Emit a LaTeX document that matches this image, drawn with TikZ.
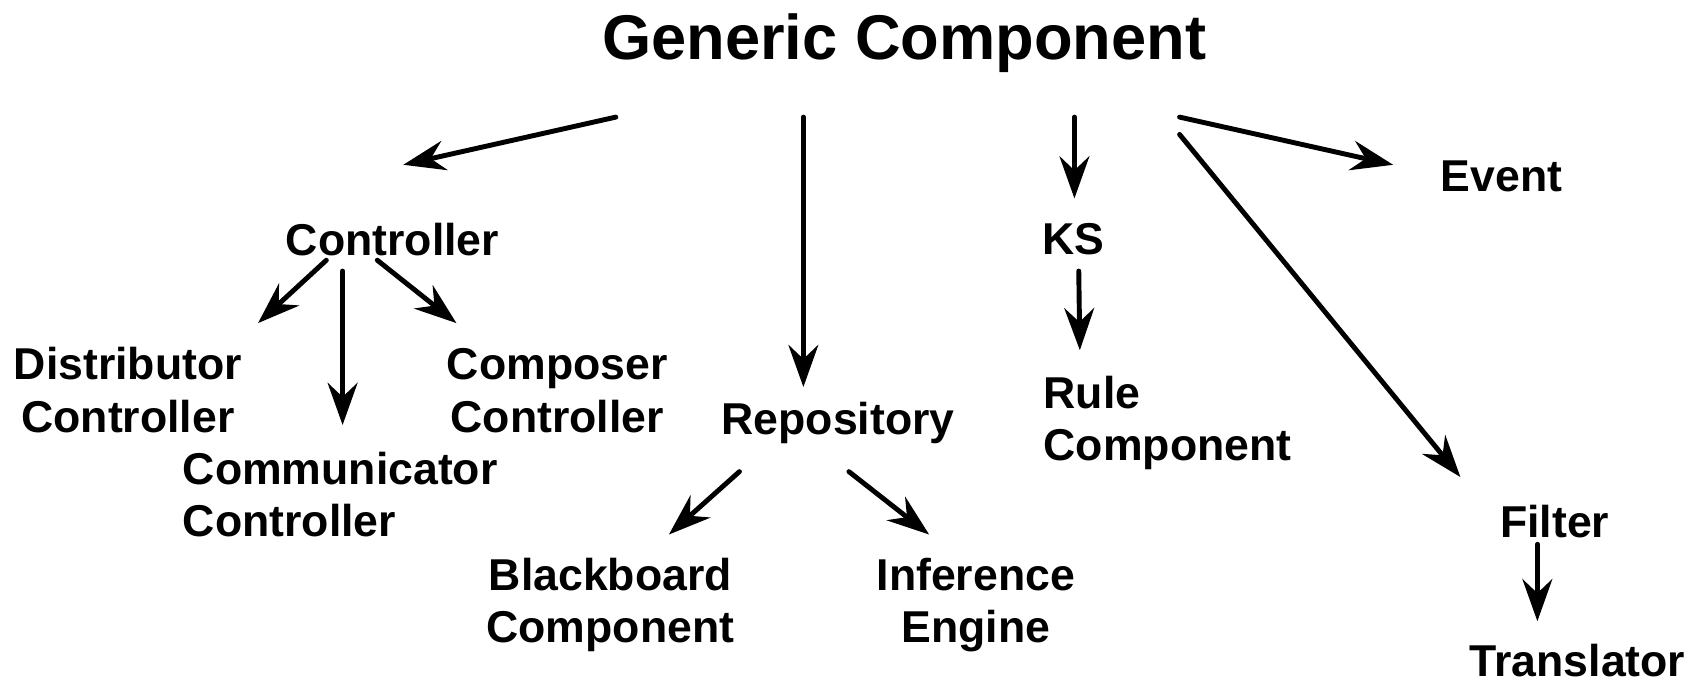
\documentclass[tikz,border=0pt]{standalone}
\usepackage{fontspec}
\setmainfont{Liberation Sans}
\usetikzlibrary{arrows.meta}

\begin{document}
\begin{tikzpicture}[
    x=0.010842cm, y=-0.010842cm,
    arr/.style={line width=1.4pt, line cap=round,
                -{Stealth[length=12pt, width=8.5pt, inset=4pt]}},
    lbl/.style={font=\bfseries\fontsize{12.7}{15}\selectfont,
                align=center, inner sep=0pt},
    lbll/.style={lbl, align=left, anchor=west},
    ttl/.style={font=\bfseries\fontsize{18}{20}\selectfont, inner sep=0pt}
]
\useasboundingbox (0,0) rectangle (1568,630);

% ---------- nodes ----------
\node[ttl] (gen) at (834,40) {Generic Component};
\node[lbl] (ctrl) at (362,221) {Controller};
\node[lbl] (dist) at (118,360) {Distributor\\Controller};
\node[lbll] (comm) at (168,456) {Communicator\\Controller};
\node[lbl] (comp) at (514,360) {Composer\\Controller};
\node[lbl] (repo) at (773,390) {Repository};
\node[lbl] (black) at (563,558) {Blackboard\\Component};
\node[lbl] (infer) at (900,558) {Inference\\Engine};
\node[lbl] (ks) at (990,221) {KS};
\node[lbll] (rule) at (962,390) {Rule\\Component};
\node[lbl] (event) at (1385,163) {Event};
\node[lbl] (filter) at (1434,481) {Filter};
\node[lbl] (trans) at (1455,609) {Translator};

% ---------- from the generic component ----------
\draw[arr] ([shift={(-266,68)}]gen.center) -- ([shift={(10,-69)}]ctrl.center);
\draw[arr] ([shift={(-93,68)}]gen.center) -- ([shift={(-32,-33)}]repo.center);
\draw[arr] ([shift={(157,68)}]gen.center) -- ([shift={(1,-38)}]ks.center);
\draw[arr] ([shift={(254,68)}]gen.center) -- ([shift={(-100,-11)}]event.center);
\draw[arr] ([shift={(254,84)}]gen.center) -- ([shift={(-87,-41)}]filter.center);

% ---------- controller ----------
\draw[arr] ([shift={(-61,19)}]ctrl.center) -- ([shift={(120,-62)}]dist.center);
\draw[arr] ([shift={(-46,29)}]ctrl.center) -- ([shift={(148,-64)}]comm.west);
\draw[arr] ([shift={(-14,19)}]ctrl.center) -- ([shift={(-93,-62)}]comp.center);

% ---------- repository ----------
\draw[arr] ([shift={(-91,45)}]repo.center) -- ([shift={(54,-65)}]black.center);
\draw[arr] ([shift={(10,45)}]repo.center) -- ([shift={(-43,-65)}]infer.center);

% ---------- ks and filter ----------
\draw[arr] ([shift={(5,29)}]ks.center) -- ([shift={(34,-67)}]rule.west);
\draw[arr] ([shift={(-16,21)}]filter.center) -- ([shift={(-37,-36)}]trans.center);

\end{tikzpicture}
\end{document}
